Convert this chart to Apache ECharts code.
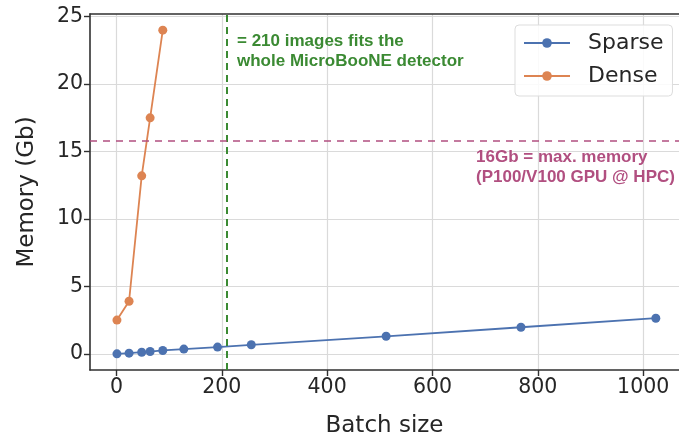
<!DOCTYPE html>
<html>
<head>
<meta charset="utf-8">
<script src="https://cdn.jsdelivr.net/npm/echarts@6/dist/echarts.min.js"></script>
<style>
  html, body { margin: 0; padding: 0; background: #fff; }
  #chart { width: 679px; height: 436px; }
</style>
</head>
<body>
<div id="chart"></div>
<script>
// Batch sizes and GPU memory use (Gb) for the two network variants
const sparseBatch = [1, 24, 48, 64, 88, 128, 192, 256, 512, 768, 1024];
const sparseMemory = [0.0, 0.05, 0.12, 0.17, 0.25, 0.35, 0.5, 0.67, 1.3, 1.97, 2.64];
const denseBatch = [1, 24, 48, 64, 88];
const denseMemory = [2.5, 3.9, 13.2, 17.5, 24.0];

// Reference lines
const detectorBatch = 210;   // images covering the whole detector
const maxMemory = 15.8;      // GPU memory limit

const xTicks = [0, 200, 400, 600, 800, 1000];
const yTicks = [0, 5, 10, 15, 20, 25];

const SPARSE = '#4c72b0';
const DENSE = '#dd8452';
const GREEN = '#3b8a33';
const PINK = '#b14f80';
const SPINE = '#303030';
const GRID = '#dadada';
const FONT = 'DejaVu Sans';

const zip = (xs, ys) => xs.map((x, i) => [x, ys[i]]);
const plain = v => String(v);

const chart = echarts.init(document.getElementById('chart'), null, { renderer: 'canvas' });

chart.setOption({
  animation: false,
  backgroundColor: '#ffffff',
  grid: { left: 90, right: 0, top: 14, bottom: 66, containLabel: false, outerBoundsMode: 'none' },
  xAxis: [{
    type: 'value',
    min: -50.15,
    max: 1068,
    name: 'Batch size',
    nameLocation: 'middle',
    nameGap: 45,
    nameTextStyle: { fontFamily: FONT, fontSize: 23, color: '#262626' },
    axisLine: { show: true, onZero: false, lineStyle: { color: SPINE, width: 1.6 } },
    axisTick: { show: true, length: 6, customValues: xTicks, lineStyle: { color: SPINE, width: 1.4 } },
    axisLabel: { customValues: xTicks, formatter: plain, fontFamily: FONT, fontSize: 20.5, color: '#262626', margin: 7 },
    splitLine: { show: true, lineStyle: { color: GRID, width: 1.2 } }
  }, {
    type: 'value',
    position: 'top',
    min: -50.15,
    max: 1068,
    axisLine: { show: true, onZero: false, lineStyle: { color: SPINE, width: 1.6 } },
    axisTick: { show: false },
    axisLabel: { show: false },
    splitLine: { show: false }
  }],
  yAxis: {
    type: 'value',
    min: -1.2,
    max: 25.2,
    name: 'Memory (Gb)',
    nameLocation: 'middle',
    nameGap: 51,
    nameRotate: 90,
    nameTextStyle: { fontFamily: FONT, fontSize: 23, color: '#262626' },
    axisLine: { show: true, onZero: false, lineStyle: { color: SPINE, width: 1.6 } },
    axisTick: { show: true, length: 6, customValues: yTicks, lineStyle: { color: SPINE, width: 1.4 } },
    axisLabel: { customValues: yTicks, formatter: plain, fontFamily: FONT, fontSize: 20.5, color: '#262626', margin: 7 },
    splitLine: { show: true, lineStyle: { color: GRID, width: 1.2 } }
  },
  legend: {
    orient: 'vertical',
    left: 515,
    top: 25,
    padding: [7, 9, 9, 8],
    itemGap: 11,
    itemWidth: 46,
    itemHeight: 12,
    backgroundColor: 'rgba(255,255,255,0.85)',
    borderColor: '#dddddd',
    borderWidth: 1,
    borderRadius: 4,
    textStyle: { fontFamily: FONT, fontSize: 22, color: '#262626', lineHeight: 22, padding: [0, 0, 0, 13] },
    data: ['Sparse', 'Dense']
  },
  series: [{
    name: 'Sparse',
    type: 'line',
    data: zip(sparseBatch, sparseMemory),
    symbol: 'circle',
    symbolSize: 9,
    z: 4,
    itemStyle: { color: SPARSE },
    lineStyle: { color: SPARSE, width: 1.8 },
    markLine: {
      silent: true,
      symbol: 'none',
      label: { show: false },
      lineStyle: { color: GREEN, type: [7, 5], width: 2 },
      data: [{ xAxis: detectorBatch }]
    }
  }, {
    name: 'Dense',
    type: 'line',
    data: zip(denseBatch, denseMemory),
    symbol: 'circle',
    symbolSize: 9,
    z: 4,
    itemStyle: { color: DENSE },
    lineStyle: { color: DENSE, width: 1.8 },
    markLine: {
      silent: true,
      symbol: 'none',
      label: { show: false },
      lineStyle: { color: PINK, type: [7, 6], width: 1.6 },
      data: [{ yAxis: maxMemory }]
    }
  }],
  graphic: [{
    type: 'text',
    left: 237,
    top: 31,
    z: 10,
    style: {
      text: '= 210 images fits the\nwhole MicroBooNE detector',
      fill: GREEN,
      font: 'bold 17px "Liberation Sans", Arial, sans-serif',
      lineHeight: 20
    }
  }, {
    type: 'text',
    left: 476,
    top: 147,
    z: 10,
    style: {
      text: '16Gb = max. memory\n(P100/V100 GPU @ HPC)',
      fill: PINK,
      font: 'bold 17px "Liberation Sans", Arial, sans-serif',
      lineHeight: 20
    }
  }]
});
</script>
</body>
</html>
